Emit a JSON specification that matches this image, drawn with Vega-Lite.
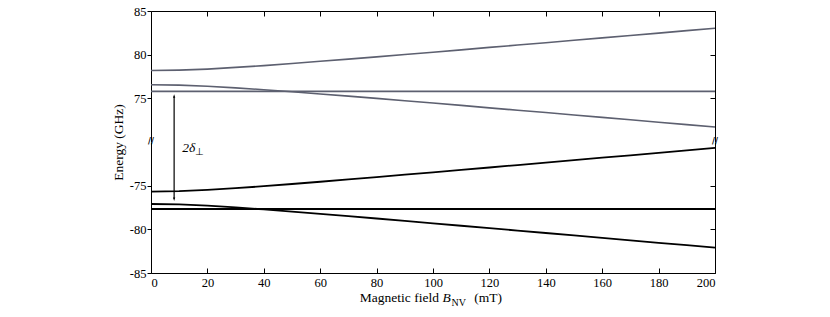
{
  "$schema": "https://vega.github.io/schema/vega-lite/v6.json",
  "padding": {"left": 111, "top": 5, "right": 5, "bottom": 5},
  "spacing": 0,
  "bounds": "flush",
  "config": {
    "view": {"stroke": null},
    "font": "Liberation Serif",
    "text": {"font": "Liberation Serif"},
    "axis": {"grid": false, "domainColor": "#000", "tickColor": "#000", "labelColor": "#000", "titleColor": "#000", "labelFont": "Liberation Serif", "titleFont": "Liberation Serif", "labelFontSize": 12.5, "titleFontSize": 13.5, "titleFontWeight": "normal", "domainWidth": 1, "tickWidth": 1}
  },
  "datasets": {
    "top": [
      {"B": 0, "E": 78.18, "level": "u"}, {"B": 10, "E": 78.23, "level": "u"}, {"B": 20, "E": 78.35, "level": "u"}, {"B": 30, "E": 78.54, "level": "u"}, {"B": 40, "E": 78.75, "level": "u"}, {"B": 50, "E": 78.99, "level": "u"}, {"B": 60, "E": 79.24, "level": "u"}, {"B": 70, "E": 79.49, "level": "u"}, {"B": 80, "E": 79.75, "level": "u"}, {"B": 90, "E": 80.02, "level": "u"}, {"B": 100, "E": 80.28, "level": "u"}, {"B": 110, "E": 80.55, "level": "u"}, {"B": 120, "E": 80.83, "level": "u"}, {"B": 130, "E": 81.10, "level": "u"}, {"B": 140, "E": 81.37, "level": "u"}, {"B": 150, "E": 81.65, "level": "u"}, {"B": 160, "E": 81.92, "level": "u"}, {"B": 170, "E": 82.20, "level": "u"}, {"B": 180, "E": 82.47, "level": "u"}, {"B": 190, "E": 82.75, "level": "u"}, {"B": 200, "E": 83.03, "level": "u"},
      {"B": 0, "E": 76.56, "level": "m"}, {"B": 10, "E": 76.51, "level": "m"}, {"B": 20, "E": 76.39, "level": "m"}, {"B": 30, "E": 76.20, "level": "m"}, {"B": 40, "E": 75.99, "level": "m"}, {"B": 50, "E": 75.75, "level": "m"}, {"B": 60, "E": 75.50, "level": "m"}, {"B": 70, "E": 75.25, "level": "m"}, {"B": 80, "E": 74.99, "level": "m"}, {"B": 90, "E": 74.72, "level": "m"}, {"B": 100, "E": 74.46, "level": "m"}, {"B": 110, "E": 74.19, "level": "m"}, {"B": 120, "E": 73.91, "level": "m"}, {"B": 130, "E": 73.64, "level": "m"}, {"B": 140, "E": 73.37, "level": "m"}, {"B": 150, "E": 73.09, "level": "m"}, {"B": 160, "E": 72.82, "level": "m"}, {"B": 170, "E": 72.54, "level": "m"}, {"B": 180, "E": 72.27, "level": "m"}, {"B": 190, "E": 71.99, "level": "m"}, {"B": 200, "E": 71.71, "level": "m"},
      {"B": 0, "E": 75.8, "level": "f"}, {"B": 200, "E": 75.8, "level": "f"}
    ],
    "bottom": [
      {"B": 0, "E": -75.69, "level": "u"}, {"B": 10, "E": -75.63, "level": "u"}, {"B": 20, "E": -75.49, "level": "u"}, {"B": 30, "E": -75.29, "level": "u"}, {"B": 40, "E": -75.06, "level": "u"}, {"B": 50, "E": -74.81, "level": "u"}, {"B": 60, "E": -74.55, "level": "u"}, {"B": 70, "E": -74.29, "level": "u"}, {"B": 80, "E": -74.02, "level": "u"}, {"B": 90, "E": -73.74, "level": "u"}, {"B": 100, "E": -73.47, "level": "u"}, {"B": 110, "E": -73.19, "level": "u"}, {"B": 120, "E": -72.92, "level": "u"}, {"B": 130, "E": -72.64, "level": "u"}, {"B": 140, "E": -72.36, "level": "u"}, {"B": 150, "E": -72.08, "level": "u"}, {"B": 160, "E": -71.80, "level": "u"}, {"B": 170, "E": -71.52, "level": "u"}, {"B": 180, "E": -71.24, "level": "u"}, {"B": 190, "E": -70.96, "level": "u"}, {"B": 200, "E": -70.68, "level": "u"},
      {"B": 0, "E": -77.10, "level": "l"}, {"B": 10, "E": -77.15, "level": "l"}, {"B": 20, "E": -77.29, "level": "l"}, {"B": 30, "E": -77.49, "level": "l"}, {"B": 40, "E": -77.72, "level": "l"}, {"B": 50, "E": -77.97, "level": "l"}, {"B": 60, "E": -78.23, "level": "l"}, {"B": 70, "E": -78.49, "level": "l"}, {"B": 80, "E": -78.76, "level": "l"}, {"B": 90, "E": -79.04, "level": "l"}, {"B": 100, "E": -79.31, "level": "l"}, {"B": 110, "E": -79.59, "level": "l"}, {"B": 120, "E": -79.86, "level": "l"}, {"B": 130, "E": -80.14, "level": "l"}, {"B": 140, "E": -80.42, "level": "l"}, {"B": 150, "E": -80.70, "level": "l"}, {"B": 160, "E": -80.98, "level": "l"}, {"B": 170, "E": -81.26, "level": "l"}, {"B": 180, "E": -81.54, "level": "l"}, {"B": 190, "E": -81.82, "level": "l"}, {"B": 200, "E": -82.10, "level": "l"},
      {"B": 0, "E": -77.67, "level": "f"}, {"B": 200, "E": -77.67, "level": "f"}
    ],
    "edges": [{"B": 0}, {"B": 200}],
    "one": [{"k": 1}]
  },
  "vconcat": [
    {
      "width": 564,
      "height": 131,
      "resolve": {"axis": {"x": "independent", "y": "independent"}},
      "layer": [
        {
          "data": {"name": "top"},
          "mark": {"type": "line", "strokeWidth": 1.6, "color": "#5d6070"},
          "encoding": {
            "x": {"field": "B", "type": "quantitative", "scale": {"domain": [0, 200], "nice": false}, "axis": {"orient": "top", "values": [0, 20, 40, 60, 80, 100, 120, 140, 160, 180, 200], "labels": false, "tickSize": -5, "title": null}},
            "y": {"field": "E", "type": "quantitative", "scale": {"domain": [70, 85], "nice": false, "zero": false}, "axis": {"orient": "left", "values": [75, 80, 85], "tickSize": 4, "labelPadding": 1, "title": "Energy (GHz)", "titleAngle": -90, "titleX": -33, "titleY": 131, "titleAlign": "center", "titleBaseline": "middle"}},
            "detail": {"field": "level"}
          }
        },
        {
          "data": {"name": "edges"},
          "mark": {"type": "text", "text": "//", "font": "DejaVu Sans", "fontSize": 8, "fontWeight": "bold", "color": "#000", "baseline": "middle", "align": "center", "clip": false},
          "encoding": {
            "x": {"field": "B", "type": "quantitative", "axis": null},
            "y": {"datum": 70, "type": "quantitative", "axis": {"orient": "right", "values": [75, 80, 85], "labels": false, "tickSize": -5, "title": null}}
          }
        },
        {
          "data": {"name": "one"},
          "mark": {"type": "rule", "strokeWidth": 1.2, "color": "#000"},
          "encoding": {
            "x": {"datum": 8.2, "type": "quantitative", "axis": null},
            "y": {"datum": 75.2, "type": "quantitative", "axis": null},
            "y2": {"datum": 70}
          }
        },
        {
          "data": {"name": "one"},
          "mark": {"type": "point", "shape": "M0,0L-0.32,1L0.32,1Z", "filled": true, "size": 49, "color": "#000", "opacity": 1, "strokeWidth": 0},
          "encoding": {
            "x": {"datum": 8.2, "type": "quantitative", "axis": null},
            "y": {"datum": 75.46, "type": "quantitative", "axis": null}
          }
        }
      ]
    },
    {
      "width": 564,
      "height": 131,
      "resolve": {"axis": {"x": "independent", "y": "independent"}},
      "layer": [
        {
          "data": {"name": "bottom"},
          "mark": {"type": "line", "strokeWidth": 1.8, "color": "#000"},
          "encoding": {
            "x": {"field": "B", "type": "quantitative", "scale": {"domain": [0, 200], "nice": false}, "axis": {"orient": "bottom", "values": [0, 20, 40, 60, 80, 100, 120, 140, 160, 180, 200], "tickSize": -5, "labelPadding": 8, "title": null}},
            "y": {"field": "E", "type": "quantitative", "scale": {"domain": [-85, -70], "nice": false, "zero": false}, "axis": {"orient": "left", "values": [-85, -80, -75], "tickSize": 4, "labelPadding": 1, "labelExpr": "'' + datum.value", "title": null}},
            "detail": {"field": "level"}
          }
        },
        {
          "data": {"name": "edges"},
          "mark": {"type": "text", "text": "//", "font": "DejaVu Sans", "fontSize": 8, "fontWeight": "bold", "color": "#000", "baseline": "middle", "align": "center", "clip": false, "opacity": 0},
          "encoding": {
            "x": {"field": "B", "type": "quantitative", "axis": null},
            "y": {"datum": -70, "type": "quantitative", "axis": {"orient": "right", "values": [-85, -80, -75], "labels": false, "tickSize": -5, "title": null}}
          }
        },
        {
          "data": {"name": "one"},
          "mark": {"type": "rule", "strokeWidth": 1.2, "color": "#000"},
          "encoding": {
            "x": {"datum": 8.2, "type": "quantitative", "axis": null},
            "y": {"datum": -70, "type": "quantitative", "axis": null},
            "y2": {"datum": -76.5}
          }
        },
        {
          "data": {"name": "one"},
          "mark": {"type": "point", "shape": "M0,0L-0.32,-1L0.32,-1Z", "filled": true, "size": 49, "color": "#000", "opacity": 1, "strokeWidth": 0},
          "encoding": {
            "x": {"datum": 8.2, "type": "quantitative", "axis": null},
            "y": {"datum": -76.75, "type": "quantitative", "axis": null}
          }
        },
        {
          "data": {"name": "one"},
          "mark": {"type": "text", "text": "2δ", "fontStyle": "italic", "fontSize": 13.5, "align": "left", "baseline": "middle", "color": "#000"},
          "encoding": {
            "x": {"datum": 11.1, "type": "quantitative", "axis": null},
            "y": {"datum": -70.7, "type": "quantitative", "axis": null}
          }
        },
        {
          "data": {"name": "one"},
          "mark": {"type": "text", "text": "⊥", "fontSize": 10, "align": "left", "baseline": "middle", "dy": 4, "color": "#000"},
          "encoding": {
            "x": {"datum": 15.6, "type": "quantitative", "axis": null},
            "y": {"datum": -70.7, "type": "quantitative", "axis": null}
          }
        },
        {
          "data": {"name": "one"},
          "mark": {"type": "text", "text": "Magnetic field", "fontSize": 13.5, "align": "right", "baseline": "middle", "clip": false, "color": "#000"},
          "encoding": {
            "x": {"datum": 102.1, "type": "quantitative", "axis": null},
            "y": {"datum": -87.9, "type": "quantitative", "axis": null}
          }
        },
        {
          "data": {"name": "one"},
          "mark": {"type": "text", "text": "B", "fontStyle": "italic", "fontSize": 13.5, "align": "left", "baseline": "middle", "clip": false, "color": "#000"},
          "encoding": {
            "x": {"datum": 103.4, "type": "quantitative", "axis": null},
            "y": {"datum": -87.9, "type": "quantitative", "axis": null}
          }
        },
        {
          "data": {"name": "one"},
          "mark": {"type": "text", "text": "NV", "fontSize": 10, "align": "left", "baseline": "middle", "dy": 5, "clip": false, "color": "#000"},
          "encoding": {
            "x": {"datum": 106.6, "type": "quantitative", "axis": null},
            "y": {"datum": -87.9, "type": "quantitative", "axis": null}
          }
        },
        {
          "data": {"name": "one"},
          "mark": {"type": "text", "text": "(mT)", "fontSize": 13.5, "align": "left", "baseline": "middle", "clip": false, "color": "#000"},
          "encoding": {
            "x": {"datum": 114.6, "type": "quantitative", "axis": null},
            "y": {"datum": -87.9, "type": "quantitative", "axis": null}
          }
        }
      ]
    }
  ]
}
